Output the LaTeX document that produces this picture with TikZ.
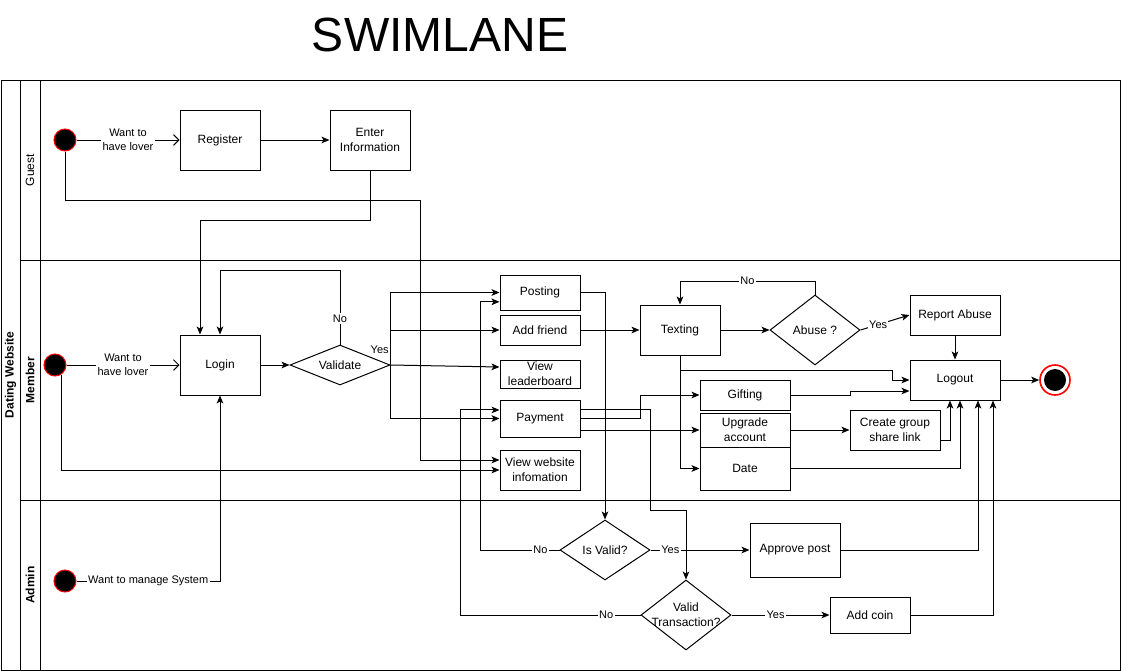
\documentclass[tikz,border=0pt]{standalone}
\usepackage{fontspec}
\setmainfont{Liberation Sans}
\usepackage{tikz}
\usetikzlibrary{arrows.meta, positioning, shapes.geometric, calc}
\definecolor{startred}{RGB}{255,0,0}

\tikzset{
    box/.style={draw, rectangle, fill=white, line width=0.75pt, align=center, inner sep=1pt, font=\fontsize{9}{11}\selectfont},
    decision/.style={draw, diamond, fill=white, line width=0.75pt, inner sep=0pt},
    dtext/.style={align=center, inner sep=0pt, font=\fontsize{9}{11}\selectfont},
    startdot/.style={circle, fill=black, draw=startred, line width=0.75pt, minimum size=16.5pt, inner sep=0pt},
    enddot/.style={circle, fill=white, draw=startred, line width=1.2pt, minimum size=22.5pt, inner sep=0pt,
        path picture={\fill[black] (path picture bounding box.center) circle (8.25pt);}},
    flow/.style={line width=0.75pt, -{Stealth[length=6pt, width=5pt, inset=1.5pt]}},
    openflow/.style={line width=0.75pt, -{Straight Barb[length=4pt, width=8pt]}},
    lbl/.style={fill=white, inner sep=1pt, font=\fontsize{8.25}{10.5}\selectfont, align=center},
    lane/.style={rotate=90, font=\fontsize{9}{11}\selectfont}
}

\begin{document}
\begin{tikzpicture}[x=0.75pt, y=-0.75pt]
    \useasboundingbox (0,0) rectangle (1122,671);
    \node[font=\fontsize{36}{40}\selectfont] (title) at (440,35) {SWIMLANE};
    % pool and lanes
    \draw[line width=0.75pt] (1,80) rectangle (1120,670);
    \foreach \x in {20,40} {
        \draw[line width=0.75pt] (\x,80) -- (\x,670);
    }
    \foreach \y in {260,500} {
        \draw[line width=0.75pt] (20,\y) -- (1120,\y);
    }
    \node[lane, font=\bfseries\fontsize{9}{11}\selectfont] (pool) at (10.5,375) {Dating Website};
    \node[lane] (lguest) at (30,170) {Guest};
    \node[lane, font=\bfseries\fontsize{9}{11}\selectfont] (lmember) at (30,380) {Member};
    \node[lane, font=\bfseries\fontsize{9}{11}\selectfont] (ladmin) at (30,585) {Admin};

    % guest lane
    \node[startdot] (gstart) at (65,140) {};
    \node[box, minimum width=60pt, minimum height=45pt] (register) at (220,140) {Register};
    \node[box, minimum width=60pt, minimum height=45pt] (enter) at (370,140) {Enter\\Information};

    % member lane
    \node[startdot] (mstart) at (55,365) {};
    \node[box, minimum width=60pt, minimum height=45pt] (login) at (220,365) {Login};
    \node[decision, minimum width=75pt, minimum height=30pt, label={[dtext]center:Validate}] (validate) at (340,365) {};
    \node[box, minimum width=60pt, minimum height=26.25pt] (posting) at (540,292.5) {Posting};
    \node[box, minimum width=60pt, minimum height=22.5pt] (addfriend) at (540,330) {Add friend};
    \node[box, minimum width=60pt, minimum height=21pt] (leader) at (540,374) {View\\leaderboard};
    \node[box, minimum width=60pt, minimum height=27.75pt] (payment) at (540,418.5) {Payment};
    \node[box, minimum width=60pt, minimum height=30pt] (vwi) at (540,470) {View website\\infomation};
    \node[box, minimum width=60pt, minimum height=37.5pt] (texting) at (680,330) {Texting};
    \node[box, minimum width=67.5pt, minimum height=22.5pt] (gifting) at (745,395) {Gifting};
    \node[box, minimum width=67.5pt, minimum height=25.5pt] (upgrade) at (745,430) {Upgrade\\account};
    \node[box, minimum width=67.5pt, minimum height=32.25pt] (date) at (745,468.5) {Date};
    \node[decision, minimum width=67.5pt, minimum height=52.5pt, label={[dtext]center:Abuse ?}] (abuse) at (815,330) {};
    \node[box, minimum width=67.5pt, minimum height=30pt] (report) at (955,315) {Report Abuse};
    \node[box, minimum width=67.5pt, minimum height=30pt] (logout) at (955,380) {Logout};
    \node[box, minimum width=67.5pt, minimum height=30pt] (group) at (895,430) {Create group\\share link};
    \node[enddot] (end) at (1055,380) {};

    % admin lane
    \node[startdot] (astart) at (65,581) {};
    \node[decision, minimum width=67.5pt, minimum height=45pt, label={[dtext]center:Is Valid?}] (isvalid) at (605,550) {};
    \node[decision, minimum width=67.5pt, minimum height=52.5pt, label={[dtext]center:Valid\\Transaction?}] (vtrans) at (686,615) {};
    \node[box, minimum width=67.5pt, minimum height=40.5pt] (approve) at (795,550) {Approve post};
    \node[box, minimum width=60pt, minimum height=27pt] (addcoin) at (870,615) {Add coin};

    % guest flows
    \draw[openflow] (gstart) -- node[lbl] {Want to\\have lover} (register);
    \draw[flow] (register) -- (enter);
    \draw[flow] (enter.south) |- (200,220) -- ([xshift=-15pt]login.north);
    \draw[flow] (gstart.south) |- (420,200) |- ([yshift=7.5pt]vwi.west);

    % member flows
    \draw[openflow] (mstart) -- node[lbl] {Want to\\have lover} (login);
    \draw[flow] ([xshift=4.5pt, yshift=1.5pt]mstart.south) |- (vwi.west);
    \draw[flow] (login) -- (validate);
    \draw[flow] (validate.north) -- node[lbl, pos=0.35] {No} (340,270) -| (login.north);
    \draw[flow] (validate.east) |- (posting.west);
    \draw[flow] (validate.east) |- (addfriend.west);
    \draw[flow] (validate.east) -- node[lbl, pos=0, anchor=south east, fill=none, yshift=7.5pt] {Yes} ([yshift=5.25pt]leader.west);
    \draw[flow] (validate.east) |- (payment.west);
    \draw[flow] (posting.east) -| (isvalid.north);
    \draw[flow] (payment.east) -| (640,395) -- (gifting.west);
    \draw[flow] ([yshift=6.5pt]payment.east) -| (650,510) -| (vtrans.north);
    \draw[flow] (payment.east |- upgrade.west) -- (upgrade.west);
    \draw[flow] (addfriend) -- (texting);
    \draw[flow] (texting) -- (abuse);
    \draw[flow] (abuse.east) -- node[lbl, pos=0.36] {Yes} (report.west);
    \draw[flow] (abuse.north) -- (815,281) -- node[lbl] {No} (680,281) -- (texting.north);
    \draw[flow] (texting.south) |- (date.west);
    \draw[flow] (texting.south) |- (892,370) |- (logout.west);
    \draw[flow] (gifting.east) -| (850,391) -- ([yshift=-8.25pt]logout.west);
    \draw[flow] (upgrade.east) -- (group.west);
    \draw[flow] ([yshift=-7.5pt]group.east) -| ([xshift=-3.75pt]logout.south);
    \draw[flow] (date.east) -| ([xshift=3.75pt]logout.south);
    \draw[flow] (report) -- (logout);
    \draw[flow] (logout) -- (end);

    % admin flows
    \draw[flow] (astart.east) -| node[lbl, pos=0.25] {Want to manage System} (login.south);
    \draw[flow] (isvalid.east) -- node[lbl, pos=0.2] {Yes} (approve.west);
    \draw[flow] (isvalid.west) -- node[lbl, pos=0.24] {No} (480,550) |- ([yshift=-7pt]posting.west);
    \draw[flow] (vtrans.east) -- node[lbl, pos=0.45] {Yes} (addcoin.west);
    \draw[flow] (vtrans.west) -- node[lbl, pos=0.19] {No} (460,615) |- ([yshift=6.4pt]payment.west);
    \draw[flow] (approve.east) -| ([xshift=17.25pt]logout.south);
    \draw[flow] (addcoin.east) -| ([xshift=28.5pt]logout.south);
\end{tikzpicture}
\end{document}
